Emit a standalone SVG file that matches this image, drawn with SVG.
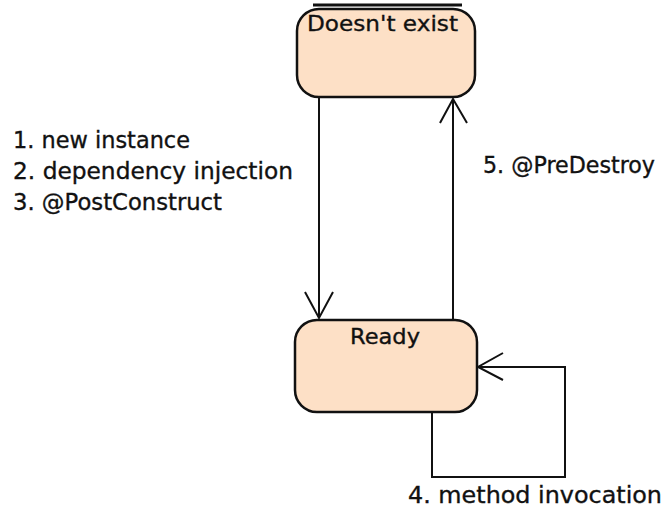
<svg xmlns="http://www.w3.org/2000/svg" width="665" height="508" viewBox="0 0 665 508">
<style>
.box{fill:#fde0c6;stroke:#111;stroke-width:2.5}
.ln{fill:none;stroke:#111;stroke-width:2}
text{font-family:"DejaVu Sans","Liberation Sans",sans-serif;font-size:23px;fill:#111;stroke:#111;stroke-width:0.35}
.nm{font-size:22px}
</style>
<rect width="665" height="508" fill="#fff"/>
<g id="node-doesnt-exist">
<line x1="313" y1="5" x2="462" y2="5" stroke="#111" stroke-width="3"/>
<rect class="box" x="297" y="9" width="178" height="88" rx="22"/>
<text class="nm" x="307" y="31" textLength="151" lengthAdjust="spacingAndGlyphs">Doesn't exist</text>
</g>
<g id="node-ready">
<rect class="box" x="295" y="320" width="182" height="92" rx="22"/>
<text class="nm" x="350" y="344" textLength="70" lengthAdjust="spacingAndGlyphs">Ready</text>
</g>
<g id="connectors">
<line class="ln" x1="319" y1="97" x2="319" y2="318"/>
<polyline class="ln" points="305,292 319,318 333,292"/>
<line class="ln" x1="453" y1="320" x2="453" y2="99"/>
<polyline class="ln" points="440,123 453,99 467,123"/>
<polyline class="ln" points="432,412 432,477 565,477 565,367 478,367"/>
<polyline class="ln" points="503,353 478,367 503,380"/>
</g>
<g id="labels">
<text x="13" y="148" textLength="177" lengthAdjust="spacingAndGlyphs">1. new instance</text>
<text x="13" y="179" textLength="280" lengthAdjust="spacingAndGlyphs">2. dependency injection</text>
<text x="13" y="210" textLength="209" lengthAdjust="spacingAndGlyphs">3. @PostConstruct</text>
<text x="483" y="173" textLength="172" lengthAdjust="spacingAndGlyphs">5. @PreDestroy</text>
<text x="408" y="503" textLength="254" lengthAdjust="spacingAndGlyphs">4. method invocation</text>
</g>
</svg>
